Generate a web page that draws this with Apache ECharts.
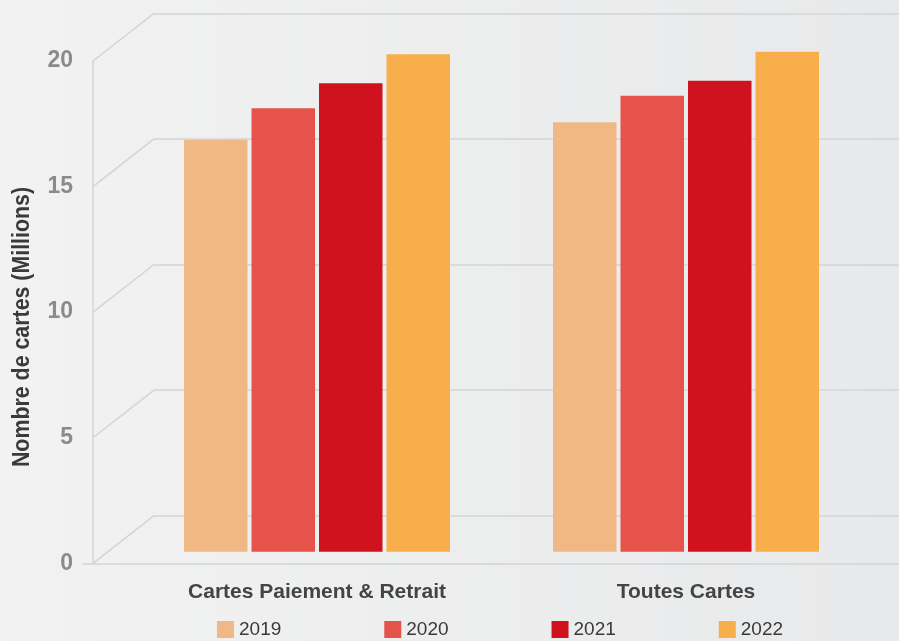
<!DOCTYPE html>
<html>
<head>
<meta charset="utf-8">
<script src="https://cdn.jsdelivr.net/npm/echarts@6/dist/echarts.min.js"></script>
<style>html,body{margin:0;padding:0;}#c{width:899px;height:641px;}</style>
</head>
<body>
<div id="c"></div>
<script>
const categories = ['Cartes Paiement & Retrait', 'Toutes Cartes'];
const years = ['2019', '2020', '2021', '2022'];
const v2019 = [16.4, 17.1];
const v2020 = [17.65, 18.15];
const v2021 = [18.65, 18.75];
const v2022 = [19.8, 19.9];
const yTicks = [0, 5, 10, 15, 20];
const yTitle = 'Nombre de cartes (Millions)';
const colors = ['#f0b885', '#e5534a', '#d0121f', '#f9ae4c'];

const FONT = '"Liberation Sans", Arial, sans-serif';
const GRID_COLOR = '#d3d4d5';
const seriesValues = [v2019, v2020, v2021, v2022];

const chart = echarts.init(document.getElementById('c'));
const yMin = yTicks[0], yMax = yTicks[yTicks.length - 1], yInt = yTicks[1] - yTicks[0];

const option = {
  backgroundColor: {
    type: 'linear', x: 0, y: 0, x2: 1, y2: 0,
    colorStops: [{offset: 0, color: '#f2f2f2'}, {offset: 1, color: '#e8e9ea'}]
  },
  animation: false,
  color: colors,
  legend: {
    data: years,
    left: 217, top: 620, padding: 0,
    icon: 'rect', itemWidth: 17, itemHeight: 17, itemGap: 103,
    textStyle: {fontFamily: FONT, fontSize: 19, color: '#3a3a3a'}
  },
  grid: [
    {left: 154, right: 0, top: 13.3, bottom: 125.3},   // back wall
    {left: 93, right: 0, top: 61, bottom: 77.7},       // front axis
    {left: 132.5, right: 28.5, top: 49.3, bottom: 89.3}, // bars
    {left: 83, right: 0, top: 61, bottom: 77.7}        // front baseline
  ],
  xAxis: [
    {gridIndex: 0, type: 'value', min: 0, max: 1, show: false},
    {gridIndex: 1, type: 'value', min: 0, max: 1, show: false},
    {gridIndex: 2, type: 'category', data: categories,
     axisLine: {show: false}, axisTick: {show: false},
     axisLabel: {interval: 0, margin: 30, fontFamily: FONT, fontSize: 21, fontWeight: 'bold', color: '#444444'}},
    {gridIndex: 3, type: 'value', min: 0, max: 1,
     axisLine: {show: true, lineStyle: {color: GRID_COLOR, width: 1.5}},
     axisTick: {show: false}, axisLabel: {show: false}, splitLine: {show: false}}
  ],
  yAxis: [
    {gridIndex: 0, type: 'value', min: yMin, max: yMax, interval: yInt,
     axisLine: {show: false}, axisTick: {show: false}, axisLabel: {show: false},
     splitLine: {show: true, lineStyle: {color: GRID_COLOR, width: 1.5}}},
    {gridIndex: 1, type: 'value', min: yMin, max: yMax, interval: yInt,
     axisLine: {show: true, lineStyle: {color: GRID_COLOR, width: 1.5}},
     axisTick: {show: false}, splitLine: {show: false},
     axisLabel: {margin: 20, fontFamily: FONT, fontSize: 23, fontWeight: 'bold', color: '#8a8b8d'}},
    {gridIndex: 2, type: 'value', min: yMin, max: yMax, show: false},
    {gridIndex: 3, type: 'value', min: yMin, max: yMax, show: false}
  ],
  series: years.map((y, i) => ({
    name: y, type: 'bar', xAxisIndex: 2, yAxisIndex: 2,
    data: seriesValues[i], barWidth: 63.5, barGap: '6.3%',
    itemStyle: {color: colors[i]}
  }))
};
chart.setOption(option);

const diag = yTicks.map(v => {
  const f = chart.convertToPixel({gridIndex: 1}, [0, v]);
  const b = chart.convertToPixel({gridIndex: 0}, [0, v]);
  return {type: 'line', silent: true, z: 1,
    shape: {x1: f[0], y1: f[1], x2: b[0], y2: b[1]},
    style: {stroke: GRID_COLOR, lineWidth: 1.5}};
});
diag.push({
  type: 'text', x: 22, y: 327, rotation: Math.PI / 2, scaleX: 0.89,
  style: {text: yTitle, font: 'bold 24px ' + FONT, fill: '#3a3a3a', align: 'center', verticalAlign: 'middle'}
});
chart.setOption({graphic: diag});
</script>
</body>
</html>
